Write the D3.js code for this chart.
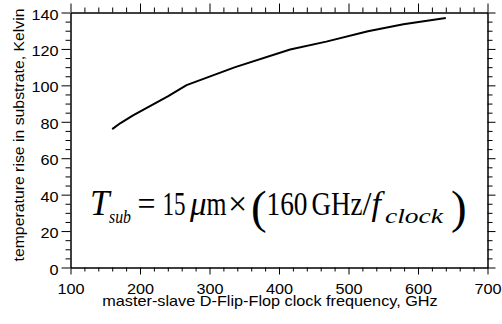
<!DOCTYPE html>
<html><head><meta charset="utf-8">
<script src="https://cdn.jsdelivr.net/npm/d3@7"></script>
<style>
html,body{margin:0;padding:0;background:#fff;}
svg{display:block;}
</style></head>
<body>
<svg id="chart" width="502" height="324"></svg>
<script>
// ---- data ----
const freqGHz = [160, 172, 190, 215, 240, 267, 300, 337, 416, 468, 528, 579, 640];
const tempRiseK = [76, 79.3, 83.5, 88.8, 94, 100.1, 104.8, 110, 119.7, 124, 129.7, 133.6, 137];
const xTickValues = [100, 200, 300, 400, 500, 600, 700];
const yTickValues = [0, 20, 40, 60, 80, 100, 120, 140];
const xLabel = "master-slave D-Flip-Flop clock frequency, GHz";
const yLabel = "temperature rise in substrate, Kelvin";

const svg = d3.select("#chart");
const L = 70.5, R = 487.5, T = 12.5, B = 267.5;
const x = d3.scaleLinear().domain([100, 700]).range([L, R]);
const y = d3.scaleLinear().domain([0, 140]).range([B, T]);

const sans = "'Liberation Sans', Arial, sans-serif";
const serif = "'Liberation Serif', 'Times New Roman', serif";

const xMinor = d3.range(100, 701, 20).filter(v => v % 100 !== 0);
const yMinor = d3.range(0, 141, 5).filter(v => v % 20 !== 0);

function styleAxis(g){
  g.selectAll("path.domain").attr("stroke","#000").attr("stroke-width",1);
  g.selectAll(".tick line").attr("stroke","#000").attr("stroke-width",1);
  g.selectAll(".tick text").attr("fill","#000").attr("font-family",sans).attr("font-size",14.5);
}
function widen(sel, k){
  sel.each(function(){
    const w = this.getComputedTextLength();
    d3.select(this).attr("textLength", w*k).attr("lengthAdjust","spacingAndGlyphs");
  });
}

// bottom
svg.append("g").attr("transform",`translate(0,${B})`)
  .call(d3.axisBottom(x).tickValues(xMinor).tickSize(4).tickSizeOuter(0).tickFormat(""))
  .call(styleAxis);
const xb = svg.append("g").attr("transform",`translate(0,${B})`)
  .call(d3.axisBottom(x).tickValues(xTickValues).tickSize(7).tickSizeOuter(0).tickFormat(d3.format("d")))
  .call(styleAxis);
xb.selectAll(".tick text").attr("y", 26.5).attr("dy", 0).call(widen, 1.12);
// top
svg.append("g").attr("transform",`translate(0,${T})`)
  .call(d3.axisTop(x).tickValues(xMinor).tickSize(5).tickSizeOuter(0).tickFormat(""))
  .call(styleAxis);
svg.append("g").attr("transform",`translate(0,${T})`)
  .call(d3.axisTop(x).tickValues(xTickValues).tickSize(9).tickSizeOuter(0).tickFormat(""))
  .call(styleAxis);
// left
svg.append("g").attr("transform",`translate(${L},0)`)
  .call(d3.axisLeft(y).tickValues(yMinor).tickSize(5).tickSizeOuter(0).tickFormat(""))
  .call(styleAxis);
const yl = svg.append("g").attr("transform",`translate(${L},0)`)
  .call(d3.axisLeft(y).tickValues(yTickValues).tickSize(9).tickSizeOuter(0).tickPadding(3).tickFormat(d3.format("d")))
  .call(styleAxis);
yl.selectAll(".tick text").attr("y", 2).call(widen, 1.12);
// right
svg.append("g").attr("transform",`translate(${R},0)`)
  .call(d3.axisRight(y).tickValues(yMinor).tickSize(5).tickSizeOuter(0).tickFormat(""))
  .call(styleAxis);
svg.append("g").attr("transform",`translate(${R},0)`)
  .call(d3.axisRight(y).tickValues(yTickValues).tickSize(8).tickSizeOuter(0).tickFormat(""))
  .call(styleAxis);

// curve
const line = d3.line().x((d,i)=>x(freqGHz[i])).y((d,i)=>y(tempRiseK[i])).curve(d3.curveLinear);
svg.append("path").datum(tempRiseK).attr("d", line)
  .attr("fill","none").attr("stroke","#000").attr("stroke-width",2).attr("stroke-linejoin","round");

// axis titles
svg.append("text").attr("x",270).attr("y",305.5).attr("text-anchor","middle")
  .attr("font-family",sans).attr("font-size",14.5).attr("fill","#000").text(xLabel).call(widen, 1.12);
svg.append("text").attr("transform",`translate(24,135) rotate(-90)`).attr("text-anchor","middle")
  .attr("font-family",sans).attr("font-size",14.5).attr("fill","#000").text(yLabel).call(widen, 1.09);

// formula as one text element (x = left edge, w = width or null for natural)
const pieces = [
  {t:"T", x:90, w:null, y:215, s:35, i:true},
  {t:"sub", x:109, w:22, y:223, s:19, i:true},
  {t:"=", x:137.5, w:18, y:215, s:34},
  {t:"15", x:162.5, w:23, y:215, s:34},
  {t:"\u03bc", x:190, w:null, y:215, s:33, i:true},
  {t:"m", x:206.5, w:20, y:215, s:34},
  {t:"\u00d7", x:228, w:null, y:215, s:34},
  {t:"(", x:251, w:null, y:223, s:47},
  {t:"160", x:266.5, w:41, y:215, s:34},
  {t:"GHz", x:311.5, w:51, y:215, s:34},
  {t:"/", x:362.5, w:9, y:215, s:34},
  {t:"f", x:371.5, w:null, y:215, s:34, i:true},
  {t:"clock", x:385, w:58, y:223, s:20, i:true},
  {t:")", x:451, w:null, y:223, s:47}
];
const formula = svg.append("text").attr("font-family", serif).attr("fill","#000");
const ts = formula.selectAll("tspan").data(pieces).enter().append("tspan")
  .attr("x", d=>d.x).attr("y", d=>d.y)
  .attr("font-size", d=>d.s)
  .attr("font-style", d=>d.i?"italic":"normal")
  .text(d=>d.t);
ts.filter(d=>d.w!==null).attr("textLength", d=>d.w).attr("lengthAdjust","spacingAndGlyphs");
</script>
</body></html>
